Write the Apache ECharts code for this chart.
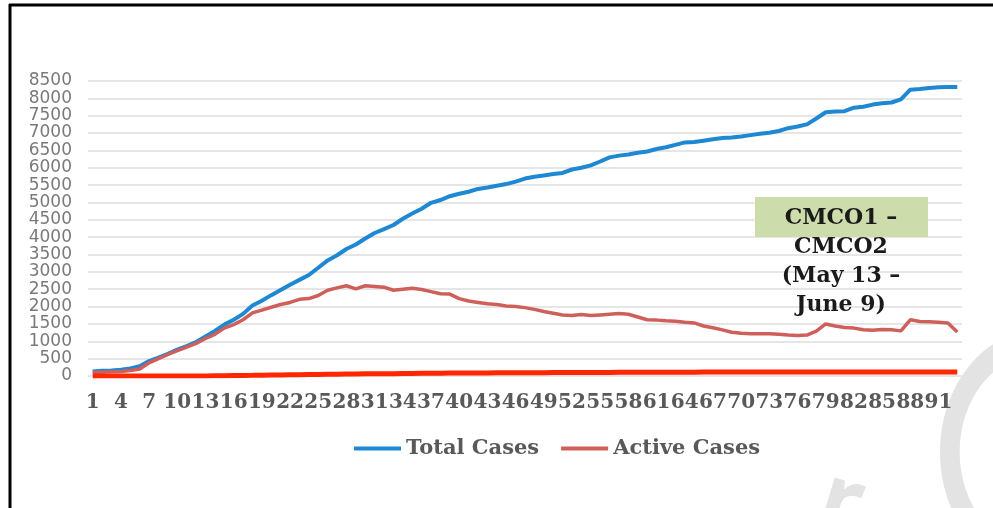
<!DOCTYPE html>
<html>
<head>
<meta charset="utf-8">
<script src="https://cdn.jsdelivr.net/npm/echarts@6/dist/echarts.min.js"></script>
<style>
  html, body { margin: 0; padding: 0; background: #fff; }
  #main { width: 993px; height: 508px; }
</style>
</head>
<body>
<div id="main"></div>
<script>
// day numbers 1..93
var days = [];
for (var d = 1; d <= 93; d++) days.push(String(d));

var totalCases = [
  130, 150, 160, 180, 220, 280, 430, 530, 640, 760,
  860, 980, 1140, 1300, 1480, 1620, 1790, 2030, 2170, 2330,
  2480, 2630, 2770, 2910, 3120, 3330, 3480, 3660, 3790, 3960,
  4120, 4230, 4350, 4530, 4680, 4820, 4990, 5070, 5180, 5250,
  5310, 5390, 5430, 5480, 5530, 5600, 5690, 5740, 5780, 5820,
  5850, 5950, 6000, 6070, 6180, 6300, 6350, 6380, 6430, 6470,
  6540, 6590, 6660, 6730, 6740, 6780, 6820, 6860, 6870, 6900,
  6940, 6980, 7010, 7060, 7140, 7190, 7250, 7420, 7600, 7620,
  7630, 7730, 7760, 7820, 7860, 7880, 7970, 8250, 8270, 8300,
  8320, 8330, 8330
];

var activeCases = [
  100, 110, 120, 130, 160, 200, 380, 500, 620, 730,
  830, 940, 1080, 1200, 1380, 1480, 1620, 1820, 1900, 1980,
  2060, 2120, 2210, 2230, 2320, 2470, 2540, 2600, 2510, 2600,
  2580, 2560, 2470, 2500, 2530, 2490, 2430, 2370, 2360, 2230,
  2160, 2120, 2080, 2060, 2020, 2000, 1970, 1920, 1860, 1810,
  1760, 1740, 1770, 1740, 1760, 1780, 1800, 1780, 1700, 1620,
  1610, 1590, 1580, 1550, 1530, 1440, 1390, 1330, 1260, 1230,
  1220, 1220, 1220, 1200, 1180, 1170, 1180, 1290, 1500, 1440,
  1400, 1380, 1330, 1320, 1340, 1330, 1300, 1620, 1570, 1560,
  1550, 1530, 1270
];

var deaths = [
  0, 0, 0, 0, 0, 0, 0, 0, 0, 0,
  2, 2, 3, 8, 10, 14, 16, 19, 23, 26,
  27, 34, 37, 43, 45, 50, 53, 57, 61, 62,
  63, 65, 67, 70, 73, 77, 80, 82, 83, 84,
  86, 88, 89, 92, 93, 95, 95, 96, 97, 98,
  98, 99, 100, 102, 103, 104, 105, 106, 107, 107,
  108, 108, 109, 109, 111, 112, 112, 112, 113, 113,
  113, 114, 114, 114, 114, 115, 115, 115, 115, 115,
  115, 115, 115, 115, 115, 116, 116, 117, 117, 118,
  118, 118, 118
];

var noteLines = ['CMCO1 \u2013', 'CMCO2', '(May 13 \u2013', 'June 9)'];

var myChart = echarts.init(document.getElementById('main'));

var option = {
  animation: false,
  backgroundColor: '#ffffff',
  grid: { left: 88, right: 31, top: 81, bottom: 132, containLabel: false },
  legend: {
    data: ['Total Cases', 'Active Cases'],
    left: 349,
    top: 433,
    icon: 'rect',
    itemWidth: 47,
    itemHeight: 4,
    itemGap: 22,
    textStyle: {
      color: '#595959',
      fontSize: 21,
      fontFamily: 'DejaVu Serif',
      fontWeight: 'bold'
    }
  },
  xAxis: {
    type: 'category',
    data: days,
    boundaryGap: true,
    axisLine: { show: false },
    axisTick: { show: false },
    axisLabel: {
      interval: 2,
      margin: 17,
      color: '#595959',
      fontSize: 20,
      fontFamily: 'DejaVu Serif',
      fontWeight: 'bold'
    }
  },
  yAxis: {
    type: 'value',
    min: 0,
    max: 8500,
    interval: 500,
    axisLine: { show: false },
    axisTick: { show: false },
    axisLabel: {
      margin: 16,
      color: '#7a7a7a',
      fontSize: 17,
      fontFamily: 'DejaVu Sans',
      formatter: function (v) { return String(v); }
    },
    splitLine: { lineStyle: { color: '#dedede', width: 1.5 } }
  },
  series: [
    {
      name: 'Total Cases',
      type: 'line',
      data: totalCases,
      showSymbol: false,
      color: '#1f88d2',
      lineStyle: { width: 4, color: '#1f88d2' },
      z: 3
    },
    {
      name: 'Active Cases',
      type: 'line',
      data: activeCases,
      showSymbol: false,
      color: '#cf5f5b',
      lineStyle: { width: 3.5, color: '#cf5f5b' },
      z: 4
    },
    {
      name: 'Deaths',
      type: 'line',
      data: deaths,
      showSymbol: false,
      color: '#ff2600',
      lineStyle: { width: 5, color: '#ff2600' },
      z: 5
    }
  ],
  graphic: [
    // frame
    { type: 'line', shape: { x1: 9, y1: 5, x2: 993, y2: 5 }, style: { stroke: '#000', lineWidth: 3 } },
    { type: 'line', shape: { x1: 10, y1: 4, x2: 10, y2: 508 }, style: { stroke: '#000', lineWidth: 3 } },
    // annotation
    { type: 'rect', shape: { x: 755, y: 197, width: 173, height: 40 }, style: { fill: '#cddcab' }, z: 10 },
    {
      type: 'text', x: 841, y: 204, z: 11,
      style: {
        text: noteLines.join('\n'),
        align: 'center',
        verticalAlign: 'top',
        lineHeight: 29,
        fill: '#1a1a1a',
        font: 'bold 22px "DejaVu Serif"'
      }
    },
    // watermark
    {
      type: 'ring', x: 1040, y: 452, scaleX: 0.82, z: -1,
      shape: { cx: 0, cy: 0, r: 122, r0: 98 },
      style: { fill: '#e3e3e3' }
    },
    {
      type: 'text', x: 835, y: 455, rotation: -0.3, z: -1,
      style: { text: 'r', fill: '#e3e3e3', font: 'bold 90px "Noto Sans"' }
    }
  ]
};

option && myChart.setOption(option);
window.addEventListener('resize', function () { myChart.resize(); });
</script>
</body>
</html>
